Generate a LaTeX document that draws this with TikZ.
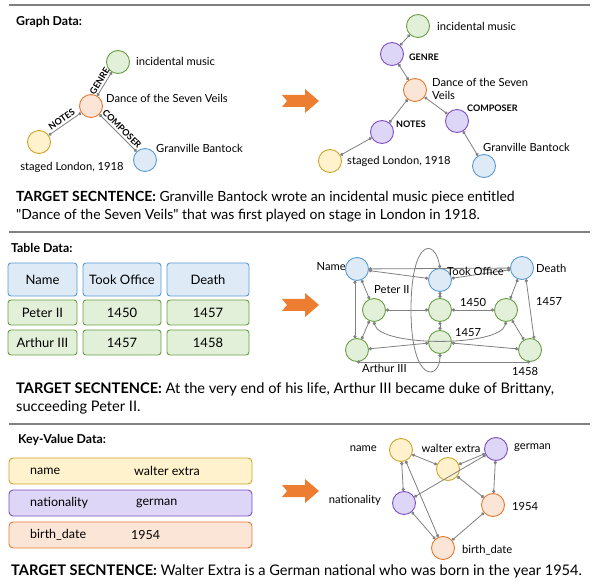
\documentclass[tikz,border=0pt]{standalone}
\usepackage{fontspec}
\setmainfont{Lato}
\usetikzlibrary{arrows.meta}
\usepackage{xcolor}

\definecolor{greenfill}{HTML}{E2F0D9}
\definecolor{greenline}{HTML}{6A9F45}
\definecolor{orangefill}{HTML}{FBE5D6}
\definecolor{orangeline}{HTML}{E57A33}
\definecolor{yellowfill}{HTML}{FFF2CC}
\definecolor{yellowline}{HTML}{CFA52A}
\definecolor{bluefill}{HTML}{DEEBF7}
\definecolor{blueline}{HTML}{5B9BD5}
\definecolor{purplefill}{HTML}{DDD6F7}
\definecolor{purpleline}{HTML}{7E50C4}
\definecolor{edgegray}{HTML}{808080}
\definecolor{arroworange}{HTML}{ED7D31}

\begin{document}
\begin{tikzpicture}[x=1pt, y=-1pt,
    every node/.style={inner sep=0pt},
    datanode/.style={circle, draw, line width=0.9pt, minimum size=23pt},
    greennode/.style={datanode, draw=greenline, fill=greenfill},
    orangenode/.style={datanode, draw=orangeline, fill=orangefill},
    yellownode/.style={datanode, draw=yellowline, fill=yellowfill},
    bluenode/.style={datanode, draw=blueline, fill=bluefill},
    purplenode/.style={datanode, draw=purpleline, fill=purplefill},
    cell/.style={rectangle, rounded corners=3pt, draw, line width=0.9pt, font=\fontsize{13}{15}\selectfont},
    kvbox/.style={rectangle, rounded corners=4pt, draw, line width=0.9pt, minimum width=243pt, minimum height=26pt},
    kvtext/.style={anchor=west, font=\fontsize{12.5}{14}\selectfont},
    link/.style={draw=edgegray, line width=0.8pt, {Circle[length=3.2pt]}-{Circle[length=3.2pt]}},
    lbl/.style={font=\fontsize{11.2}{13}\selectfont},
    rel/.style={font=\fontsize{9}{10}\selectfont\bfseries},
    heading/.style={anchor=west, font=\fontsize{12.3}{14}\selectfont\bfseries},
    sentence/.style={anchor=north west, align=left},
    separator/.style={draw=edgegray, line width=2pt}
]
    \useasboundingbox (0,0) rectangle (595,588);

    % separators
    \draw[separator] (9,5) -- (590,5);
    \draw[separator] (9,232) -- (590,232);
    \draw[separator] (9,424) -- (590,424);

    % big arrows
    \foreach \yc in {101, 305, 491}
    {
        \fill[arroworange] (282,\yc-6) -- (305,\yc-6) -- (305,\yc-12) -- (319,\yc)
            -- (305,\yc+12) -- (305,\yc+6) -- (282,\yc+6) -- (287,\yc) -- cycle;
    }

    % ---------- graph data ----------
    \node[heading] (graph_heading) at (16,22) {Graph Data:};

    \node (tl_music) [greennode] at (118,62) {};
    \node (tl_dance) [orangenode] at (91,106) {};
    \node (tl_staged) [yellownode] at (39,142) {};
    \node (tl_bantock) [bluenode] at (145,160) {};
    \node[lbl, anchor=west] at (136,61) {incidental music};
    \node[lbl, anchor=west] at (106,98) {Dance of the Seven Veils};
    \node[lbl] at (72,167) {staged London, 1918};
    \node[lbl, anchor=west] at (156,148) {Granville Bantock};

    \draw[link] (tl_dance) -- node[rel, sloped, above=2pt] {GENRE} (tl_music);
    \draw[link] (tl_staged) -- node[rel, sloped, above=2pt] {NOTES} (tl_dance);
    \draw[link] (tl_dance) -- node[rel, sloped, above=2pt] {COMPOSER} (tl_bantock);

    \node (tr_music) [greennode] at (418,26) {};
    \node (tr_genre) [purplenode] at (392,54) {};
    \node (tr_dance) [orangenode] at (415,90) {};
    \node (tr_notes) [purplenode] at (382,132) {};
    \node (tr_composer) [purplenode] at (457,121) {};
    \node (tr_staged) [yellownode] at (330,161) {};
    \node (tr_bantock) [bluenode] at (484,166) {};
    \node[lbl, anchor=west] at (437,26) {incidental music};
    \node[rel, anchor=west] at (409,57) {GENRE};
    \node[lbl, anchor=west, align=left] at (432,89) {Dance of the Seven\\Veils};
    \node[rel, anchor=west] at (396,124) {NOTES};
    \node[rel, anchor=west] at (467,108) {COMPOSER};
    \node[lbl, anchor=west] at (347,161) {staged London, 1918};
    \node[lbl, anchor=west] at (483,147) {Granville Bantock};

    \draw[link] (tr_music) -- (tr_genre);
    \draw[link] (tr_genre) -- (tr_dance);
    \draw[link] (tr_dance) -- (tr_notes);
    \draw[link] (tr_notes) -- (tr_staged);
    \draw[link] (tr_dance) -- (tr_composer);
    \draw[link] (tr_composer) -- (tr_bantock);

    \node[sentence, font=\fontsize{14}{18}\selectfont] (graph_sentence) at (16,191)
    {
        \textbf{TARGET SECNTENCE:} Granville Bantock wrote an incidental music piece entitled\\
        \textquotedbl Dance of the Seven Veils\textquotedbl{} that was first played on stage in London in 1918.
    };

    % ---------- table data ----------
    \node[heading] (table_heading) at (11,248) {Table Data:};

    \node (cell_name) [cell, draw=blueline, fill=bluefill, minimum width=69pt, minimum height=33pt] at (42.5,279.5) {Name};
    \node (cell_office) [cell, draw=blueline, fill=bluefill, minimum width=78pt, minimum height=33pt] at (122,279.5) {Took Office};
    \node (cell_death) [cell, draw=blueline, fill=bluefill, minimum width=82pt, minimum height=33pt] at (208,279.5) {Death};
    \node (cell_peter) [cell, draw=greenline, fill=greenfill, minimum width=69pt, minimum height=25pt] at (42.5,312.5) {Peter II};
    \node (cell_p_office) [cell, draw=greenline, fill=greenfill, minimum width=78pt, minimum height=25pt] at (122,312.5) {1450};
    \node (cell_p_death) [cell, draw=greenline, fill=greenfill, minimum width=82pt, minimum height=25pt] at (208,312.5) {1457};
    \node (cell_arthur) [cell, draw=greenline, fill=greenfill, minimum width=69pt, minimum height=25pt] at (42.5,342.5) {Arthur III};
    \node (cell_a_office) [cell, draw=greenline, fill=greenfill, minimum width=78pt, minimum height=25pt] at (122,342.5) {1457};
    \node (cell_a_death) [cell, draw=greenline, fill=greenfill, minimum width=82pt, minimum height=25pt] at (208,342.5) {1458};

    \node (tg_name) [bluenode] at (357,269) {};
    \node (tg_office) [bluenode] at (440,280) {};
    \node (tg_death) [bluenode] at (522,268) {};
    \node (tg_peter) [greennode] at (374,310) {};
    \node (tg_p_office) [greennode] at (440,310) {};
    \node (tg_p_death) [greennode] at (506,310) {};
    \node (tg_a_office) [greennode] at (440,342) {};
    \node (tg_arthur) [greennode] at (357,350) {};
    \node (tg_a_death) [greennode] at (530,350) {};

    \draw[link] (tg_name) -- (tg_death);
    \draw[link] (tg_name) -- (tg_office);
    \draw[link] (tg_office) -- (tg_death);
    \draw[link] (tg_name) -- (tg_peter);
    \draw[link] (tg_name.260) -- (tg_arthur.100);
    \draw[link] (tg_office) -- (tg_p_office);
    \draw[link] (tg_death) -- (tg_p_death);
    \draw[link] (tg_death.290) -- (tg_a_death.70);
    \draw[link] (tg_peter) -- (tg_p_office);
    \draw[link] (tg_p_office) -- (tg_p_death);
    \draw[link] (tg_p_office) -- (tg_a_office);
    \draw[link] (tg_peter) -- (tg_arthur);
    \draw[link] (tg_p_death) -- (tg_a_death);
    \draw[link] (tg_arthur) -- (tg_a_office);
    \draw[link] (tg_a_office) -- (tg_a_death);
    \draw[link] (tg_arthur.south) -- (tg_a_death.south);
    \draw[link] (tg_peter.south) .. controls (380,347) and (500,347) .. (tg_p_death.south);
    \draw[link] (tg_office.north) .. controls (435,238) and (411,238) .. (411,310)
        .. controls (411,385) and (440,380) .. (tg_a_office.south);

    \node[lbl, anchor=east] at (346,267) {Name};
    \node[lbl, anchor=west] at (447,271) {Took Office};
    \node[lbl, anchor=west] at (536,268) {Death};
    \node[lbl, anchor=west] at (374,290) {Peter II};
    \node[lbl, anchor=west] at (460,302) {1450};
    \node[lbl, anchor=west] at (536,302) {1457};
    \node[lbl, anchor=west] at (455,333) {1457};
    \node[lbl, anchor=west] at (362,368) {Arthur III};
    \node[lbl, anchor=west] at (512,371) {1458};

    \node[sentence, font=\fontsize{14.6}{18}\selectfont] (table_sentence) at (16,383)
    {
        \textbf{TARGET SECNTENCE:} At the very end of his life, Arthur III became duke of Brittany,\\
        succeeding Peter II.
    };

    % ---------- key-value data ----------
    \node[heading] (kv_heading) at (18,440) {Key-Value Data:};

    \node (box_name) [kvbox, draw=yellowline, fill=yellowfill] at (130.5,471) {};
    \node (box_nationality) [kvbox, draw=purpleline, fill=purplefill] at (130.5,503) {};
    \node (box_birth) [kvbox, draw=orangeline, fill=orangefill] at (130.5,535) {};
    \node[kvtext] at (30,471) {name};
    \node[kvtext] at (134,471) {walter extra};
    \node[kvtext] at (30,503) {nationality};
    \node[kvtext] at (136,503) {german};
    \node[kvtext] at (30,535) {birth\_date};
    \node[kvtext] at (131,535) {1954};

    \node (kv_name) [yellownode] at (401,450) {};
    \node (kv_walter) [yellownode] at (448,469) {};
    \node (kv_german) [purplenode] at (496,449) {};
    \node (kv_nationality) [purplenode] at (404,503) {};
    \node (kv_year) [orangenode] at (493,505) {};
    \node (kv_birth) [orangenode] at (443,548) {};

    \draw[link] (kv_name) -- (kv_walter);
    \draw[link] (kv_walter) -- (kv_german);
    \draw[link] (kv_name) -- (kv_nationality);
    \draw[link] (kv_name) -- (kv_birth);
    \draw[link] (kv_german) -- (kv_nationality);
    \draw[link] (kv_german) -- (kv_year);
    \draw[link] (kv_walter) -- (kv_year);
    \draw[link] (kv_nationality) -- (kv_birth);
    \draw[link] (kv_year) -- (kv_birth);

    \node[lbl, anchor=east] at (377,449) {name};
    \node[lbl] at (451,448) {walter extra};
    \node[lbl, anchor=west] at (514,448) {german};
    \node[lbl, anchor=east] at (381,500) {nationality};
    \node[lbl, anchor=west] at (512,506) {1954};
    \node[lbl, anchor=west] at (462,550) {birth\_date};

    \node[sentence, font=\fontsize{14.6}{18}\selectfont] (kv_sentence) at (11,565)
    {
        \textbf{TARGET SECNTENCE:} Walter Extra is a German national who was born in the year 1954.
    };
\end{tikzpicture}
\end{document}
